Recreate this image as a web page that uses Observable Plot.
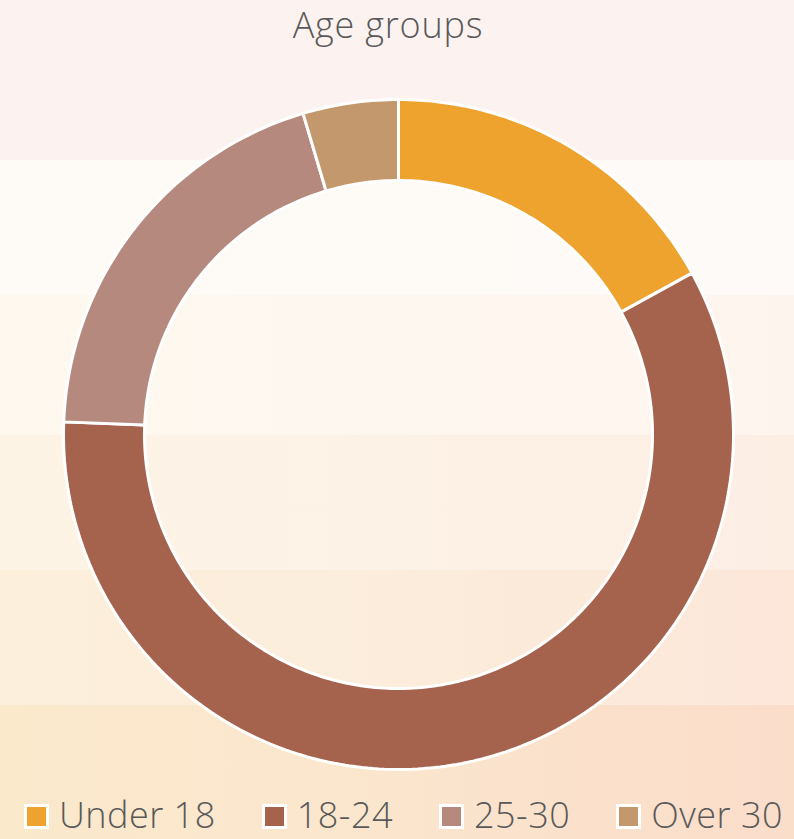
<!DOCTYPE html>
<html>
<head>
<meta charset="utf-8">
<script src="https://cdn.jsdelivr.net/npm/d3@7"></script>
<script src="https://cdn.jsdelivr.net/npm/@observablehq/plot@0.6"></script>
<style>
  html, body { margin: 0; padding: 0; }
  body {
    width: 794px; height: 839px; overflow: hidden;
    font-family: "Open Sans", sans-serif;
    background:
      linear-gradient(to bottom, #fcf3f0 0px, #fcf2ef 160px, transparent 160px),
      linear-gradient(to bottom,
        rgba(255,255,255,0.86) 160px, rgba(255,255,255,0.86) 295px,
        rgba(255,255,255,0.72) 295px, rgba(255,255,255,0.72) 435px,
        rgba(255,255,255,0.55) 435px, rgba(255,255,255,0.55) 570px,
        rgba(255,255,255,0.36) 570px, rgba(255,255,255,0.36) 705px,
        rgba(255,255,255,0.10) 705px, rgba(255,255,255,0.10) 839px),
      linear-gradient(to right, #fae6c6, #fbe4c8 40%, #fad9c4);
  }
  #title {
    height: 50px; box-sizing: border-box; padding-right: 18px;
    font-size: 36px; line-height: 50px; font-weight: 300; letter-spacing: 0.8px;
    color: #595959; text-align: center;
  }
  #chart svg { display: block; background: transparent; }
  #legend {
    height: 49px; box-sizing: border-box; padding-left: 13px;
    display: flex; justify-content: center; align-items: baseline;
    column-gap: 46px; font-size: 36px; line-height: 49px; font-weight: 300;
    letter-spacing: 0.5px; color: #595959; white-space: nowrap;
  }
  .item { display: flex; align-items: baseline; }
  .sw { display: inline-block; width: 25px; height: 25px; box-sizing: border-box;
        border: 3px solid #fff; margin-right: 10px; position: relative; top: 1px; }
</style>
</head>
<body>
<div id="title">Age groups</div>
<div id="chart"></div>
<div id="legend"></div>
<script>
const categories = ["Under 18", "18-24", "25-30", "Over 30"];
const values = [17.0, 58.6, 19.8, 4.6];
const colors = ["#EFA32F", "#A5634E", "#B5897D", "#C4986D"];

const W = 794, H = 740;
const cx = 398, cy = 384;
const R = 335, r = 254;

const pie = d3.pie().sort(null).value((d, i) => values[i]);
const arcs = pie(categories);

const rows = [];
arcs.forEach((a, i) => {
  const n = Math.max(8, Math.ceil((a.endAngle - a.startAngle) * 60));
  for (let k = 0; k <= n; k++) {
    const t = a.startAngle + (a.endAngle - a.startAngle) * k / n;
    rows.push({cat: categories[i], x: R * Math.sin(t), y: R * Math.cos(t)});
  }
  for (let k = n; k >= 0; k--) {
    const t = a.startAngle + (a.endAngle - a.startAngle) * k / n;
    rows.push({cat: categories[i], x: r * Math.sin(t), y: r * Math.cos(t)});
  }
});

const chart = Plot.plot({
  width: W, height: H,
  margin: 0,
  x: {domain: [-cx, W - cx], axis: null},
  y: {domain: [-(H - cy), cy], axis: null},
  color: {domain: categories, range: colors},
  style: {background: "transparent"},
  marks: [
    Plot.line(rows, {x: "x", y: "y", z: "cat", fill: "cat", stroke: "white",
      strokeWidth: 3, strokeLinejoin: "miter", curve: "linear-closed"})
  ]
});
document.getElementById("chart").appendChild(chart);

const legend = document.getElementById("legend");
categories.forEach((c, i) => {
  const it = document.createElement("div");
  it.className = "item";
  const sw = document.createElement("span");
  sw.className = "sw";
  sw.style.background = colors[i];
  it.appendChild(sw);
  const t = document.createElement("span");
  t.textContent = c;
  it.appendChild(t);
  legend.appendChild(it);
});
</script>
</body>
</html>
